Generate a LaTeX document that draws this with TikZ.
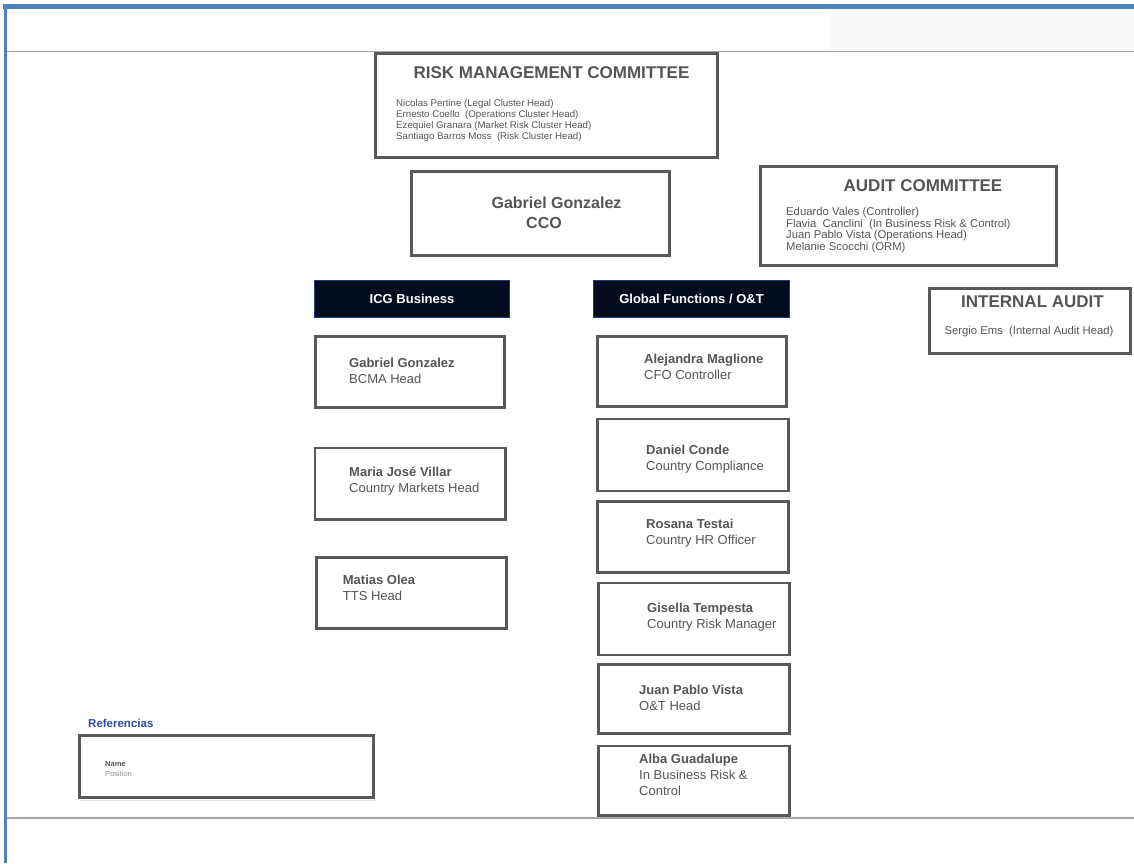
\documentclass[tikz,border=0pt]{standalone}
\usepackage{fontspec}
\setmainfont{Liberation Sans}
\definecolor{boxgray}{HTML}{58595B}
\definecolor{txtgray}{HTML}{555555}
\definecolor{hdrfill}{HTML}{030D1F}
\definecolor{hdrline}{HTML}{1C3F7C}
\definecolor{frameblue}{HTML}{4F81BD}
\definecolor{linegray}{HTML}{A6A6A6}
\definecolor{refblue}{HTML}{2B4F9E}
\definecolor{topshade}{HTML}{FAFAFA}
\newcommand\myfs[1]{\fontsize{#1}{#1}\selectfont}
\tikzset{
  box/.style={draw=boxgray, line width=2.6pt, fill=white, inner sep=0pt},
  hdr/.style={draw=hdrline, fill=hdrfill, line width=1.6pt, text=white,
    font=\bfseries\myfs{13}, inner sep=0pt, text height=9.4pt, text depth=0pt},
  ttl/.style={anchor=base, inner sep=0pt, text=txtgray, font=\bfseries\myfs{17}},
  lst/.style={anchor=base west, inner sep=0pt, text=txtgray, font=\myfs{9.7}},
  lstb/.style={anchor=base west, inner sep=0pt, text=txtgray, font=\myfs{11.3}},
  pname/.style={anchor=base west, inner sep=0pt, text=txtgray, font=\bfseries\myfs{13}},
  ppos/.style={anchor=base west, inner sep=0pt, text=txtgray, font=\myfs{13}},
}
\begin{document}
\begin{tikzpicture}[x=1pt,y=-1pt]
\useasboundingbox (0,0) rectangle (1134,863);
\fill[white] (0,0) rectangle (1134,863);
\fill[topshade] (830,9) rectangle (1134,50);
% frame
\coordinate (tl) at (3,6);
\coordinate (tr) at (1134,6);
\coordinate (lb) at (5,863);
\coordinate (g1l) at (6,51.5);
\coordinate (g1r) at (1134,51.5);
\coordinate (g2l) at (6,818);
\coordinate (g2r) at (1134,818);
\draw[linegray, line width=1.3pt] (g1l) -- (g1r);
\draw[linegray, line width=1.3pt] (g2l) -- (g2r);
\draw[frameblue, line width=5pt] (tl) -- (tr);
\draw[frameblue, line width=3pt] (5,3.5) -- (lb);

% Risk management committee
\node[box, minimum width=342.4pt, minimum height=104.4pt] (rmc) at (546.5,105.5) {};
\node[ttl] (rmct) at (551.5,78.5) {RISK MANAGEMENT COMMITTEE};
\node[lst] (rmc1) at (396,106.5) {Nicolas Pertine (Legal Cluster Head)};
\node[lst] (rmc2) at (396,117.5) {Ernesto Coello\ \ (Operations Cluster Head)};
\node[lst] (rmc3) at (396,128.5) {Ezequiel Granara (Market Risk Cluster Head)};
\node[lst] (rmc4) at (396,139.5) {Santiago Barros Moss\ \ (Risk Cluster Head)};

% CCO
\node[box, minimum width=258.4pt, minimum height=84.4pt] (cco) at (540.5,213.5) {};
\node[ttl, font=\bfseries\myfs{16}] (ccon) at (556.5,208.5) {Gabriel Gonzalez};
\node[ttl, font=\bfseries\myfs{16}] (ccop) at (544,228.5) {CCO};

% Audit committee
\node[box, minimum width=296.4pt, minimum height=99.4pt] (ac) at (908.5,216) {};
\node[ttl] (act) at (923,191.5) {AUDIT COMMITTEE};
\node[lstb] (ac1) at (786,215.5) {Eduardo Vales (Controller)};
\node[lstb] (ac2) at (786,227.2) {Flavia\ \ Canclini\ \ (In Business Risk \& Control)};
\node[lstb] (ac3) at (786,238.9) {Juan Pablo Vista (Operations Head)};
\node[lstb] (ac4) at (786,250.6) {Melanie Scocchi (ORM)};

% Internal audit
\node[box, minimum width=201.4pt, minimum height=65.4pt] (ia) at (1030,321) {};
\node[ttl] (iat) at (1032.5,307) {INTERNAL AUDIT};
\node[anchor=base, inner sep=0pt, text=txtgray, font=\myfs{11.3}] (ia1) at (1029,334) {Sergio Ems\ \ (Internal Audit Head)};

% headers
\node[hdr, minimum width=195pt, minimum height=37pt] (icg) at (412,299) {ICG Business};
\node[hdr, minimum width=196pt, minimum height=37pt] (gf) at (691.5,299) {Global Functions / O\&T};

% ICG column
\node[box, minimum width=189.4pt, minimum height=71.4pt] (bcma) at (410,372) {};
\node[pname] (bcman) at (349,367) {Gabriel Gonzalez};
\node[ppos] (bcmap) at (349,383) {BCMA Head};

\node[box, minimum width=190.4pt, minimum height=71.4pt] (mkt) at (410,483.8) {};
\node[pname] (mktn) at (349,476) {Maria José Villar};
\node[ppos] (mktp) at (349,492) {Country Markets Head};

\node[box, minimum width=190.4pt, minimum height=71.4pt] (tts) at (411.5,593) {};
\node[pname] (ttsn) at (342.7,584) {Matias Olea};
\node[ppos] (ttsp) at (342.7,600.5) {TTS Head};

% Global functions column
\node[box, minimum width=189.4pt, minimum height=70.4pt] (cfo) at (692,371.5) {};
\node[pname] (cfon) at (644,363) {Alejandra Maglione};
\node[ppos] (cfop) at (644,379) {CFO Controller};

\node[box, minimum width=191pt, minimum height=72pt] (cmp) at (693,455) {};
\node[pname] (cmpn) at (646,454) {Daniel Conde};
\node[ppos] (cmpp) at (646,470) {Country Compliance};

\node[box, minimum width=191pt, minimum height=71.4pt] (hr) at (693,537) {};
\node[pname] (hrn) at (646,528.3) {Rosana Testai};
\node[ppos] (hrp) at (646,544) {Country HR Officer};

\node[box, minimum width=191pt, minimum height=72pt] (rsk) at (693.8,619) {};
\node[pname] (rskn) at (647,612.7) {Gisella Tempesta};
\node[ppos] (rskp) at (647,628.3) {Country Risk Manager};

\node[box, minimum width=191pt, minimum height=69.4pt] (ot) at (694,699) {};
\node[pname] (otn) at (639,694.3) {Juan Pablo Vista};
\node[ppos] (otp) at (639,710) {O\&T Head};

\node[box, minimum width=191pt, minimum height=69.4pt] (ibr) at (694,780.8) {};
\node[pname] (ibrn) at (639,763.3) {Alba Guadalupe};
\node[ppos] (ibrp1) at (639,779) {In Business Risk \&};
\node[ppos] (ibrp2) at (639,795) {Control};

% references
\node[anchor=base west, inner sep=0pt, text=refblue, font=\bfseries\myfs{11.5}] (reft) at (88,727) {Referencias};
\coordinate (shl) at (80,800.5);
\coordinate (shr) at (376,800.5);
\draw[black!15, line width=1pt] (shl) -- (shr);
\node[box, line width=3.4pt, minimum width=293.6pt, minimum height=61.6pt] (ref) at (226.5,766.5) {};
\node[anchor=base west, inner sep=0pt, text=txtgray, font=\bfseries\myfs{7.5}] (refn) at (105,766) {Name};
\node[anchor=base west, inner sep=0pt, text=black!45, font=\myfs{7.5}] (refp) at (105,776) {Position};
\end{tikzpicture}
\end{document}
